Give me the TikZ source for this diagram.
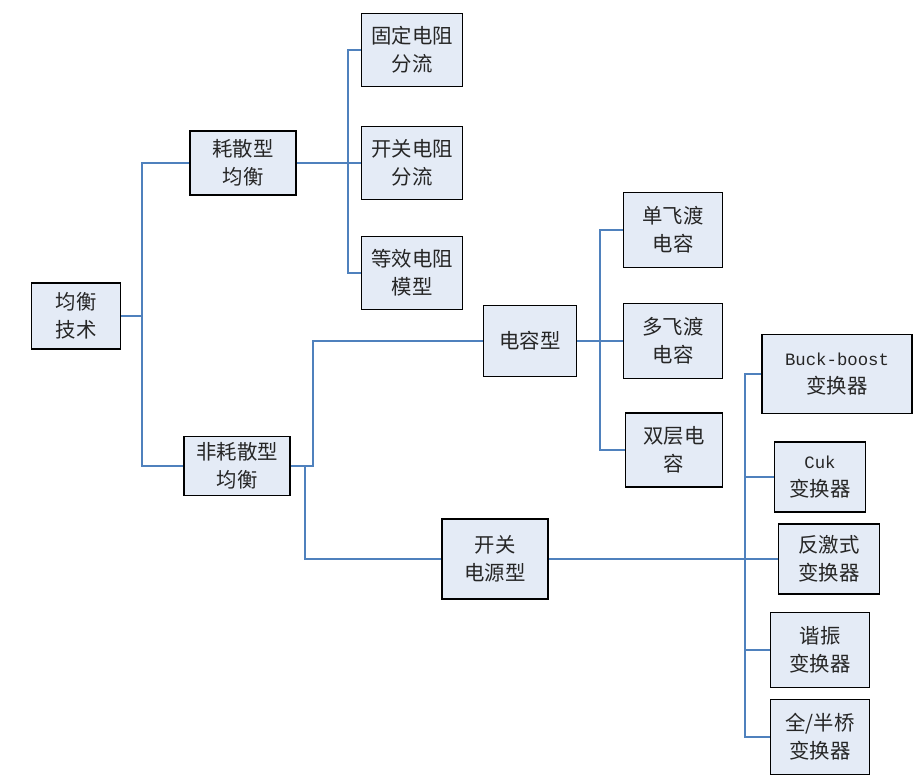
\documentclass[tikz,border=0pt]{standalone}
\usepackage{fontspec}
\setmainfont{Noto Sans CJK SC}
\newfontfamily\monofnt[Scale=0.85]{Liberation Mono}
\usetikzlibrary{calc}
\definecolor{boxfill}{RGB}{228,235,246}
\definecolor{linkblue}{RGB}{79,129,189}
\tikzset{
  box/.style={draw=black, line width=1.1pt, fill=boxfill, align=center, inner sep=0pt,
    text=black!85, font=\fontsize{14.5}{20}\selectfont},
  link/.style={draw=linkblue, line width=1.3pt}
}

\begin{document}
\begin{tikzpicture}[x=0.025cm, y=-0.025cm]
\useasboundingbox (0,0) rectangle (920,781);
%\fill[white] (0,0) rectangle (920,781);
\node[box, minimum width=2.23cm, minimum height=1.65cm] (jhjs) at (76,316) {均衡\\技术};
\node[box, minimum width=2.65cm, minimum height=1.6cm] (hsjh) at (243,163) {耗散型\\均衡};
\node[box, minimum width=2.65cm, minimum height=1.48cm] (fhsjh) at (237,466) {非耗散型\\均衡};
\node[box, minimum width=2.53cm, minimum height=1.83cm] (gddz) at (412,50) {固定电阻\\分流};
\node[box, minimum width=2.53cm, minimum height=1.83cm] (kgdz) at (412,163) {开关电阻\\分流};
\node[box, minimum width=2.53cm, minimum height=1.83cm] (dxdz) at (412,273) {等效电阻\\模型};
\node[box, minimum width=2.33cm, minimum height=1.78cm] (drx) at (530,341) {电容型};
\node[box, minimum width=2.65cm, minimum height=2.0cm] (kgdy) at (495,559) {开关\\电源型};
\node[box, minimum width=2.48cm, minimum height=1.88cm] (dfd) at (673,230) {单飞渡\\电容};
\node[box, minimum width=2.48cm, minimum height=1.88cm] (mfd) at (673,341) {多飞渡\\电容};
\node[box, minimum width=2.43cm, minimum height=1.85cm] (scdr) at (674,450) {双层电\\容};
\node[box, minimum width=3.75cm, minimum height=1.98cm] (buck) at (837,374) {{\monofnt Buck-boost}\\变换器};
\node[box, minimum width=2.28cm, minimum height=1.75cm] (cuk) at (820,477) {{\monofnt Cuk}\\变换器};
\node[box, minimum width=2.53cm, minimum height=1.75cm] (fjs) at (829,559) {反激式\\变换器};
\node[box, minimum width=2.48cm, minimum height=1.88cm] (xz) at (820,650) {谐振\\变换器};
\node[box, minimum width=2.48cm, minimum height=1.88cm] (qb) at (820,737) {全/半桥\\变换器};

\coordinate (t1) at (142,316);
\coordinate (t2) at (348,163);
\coordinate (t3) at (313,466);
\coordinate (t4) at (305,466);
\coordinate (t5) at (600,341);
\coordinate (t6) at (745,559);

\draw[link] (jhjs.east) -- (t1);
\draw[link] (hsjh.west) -| (t1) |- (fhsjh.west);
\draw[link] (hsjh.east) -- (kgdz.west);
\draw[link] (gddz.west) -| (t2) |- (dxdz.west);
\draw[link] (fhsjh.east) -- (t3) |- (drx.west);
\draw[link] (t4) |- (kgdy.west);
\draw[link] (drx.east) -- (mfd.west);
\draw[link] (dfd.west) -| (t5) |- (scdr.west);
\draw[link] (kgdy.east) -- (fjs.west);
\draw[link] (buck.west) -| (t6) |- (qb.west);
\draw[link] (cuk.west) -- (cuk.west -| t6);
\draw[link] (xz.west) -- (xz.west -| t6);
\end{tikzpicture}
\end{document}
